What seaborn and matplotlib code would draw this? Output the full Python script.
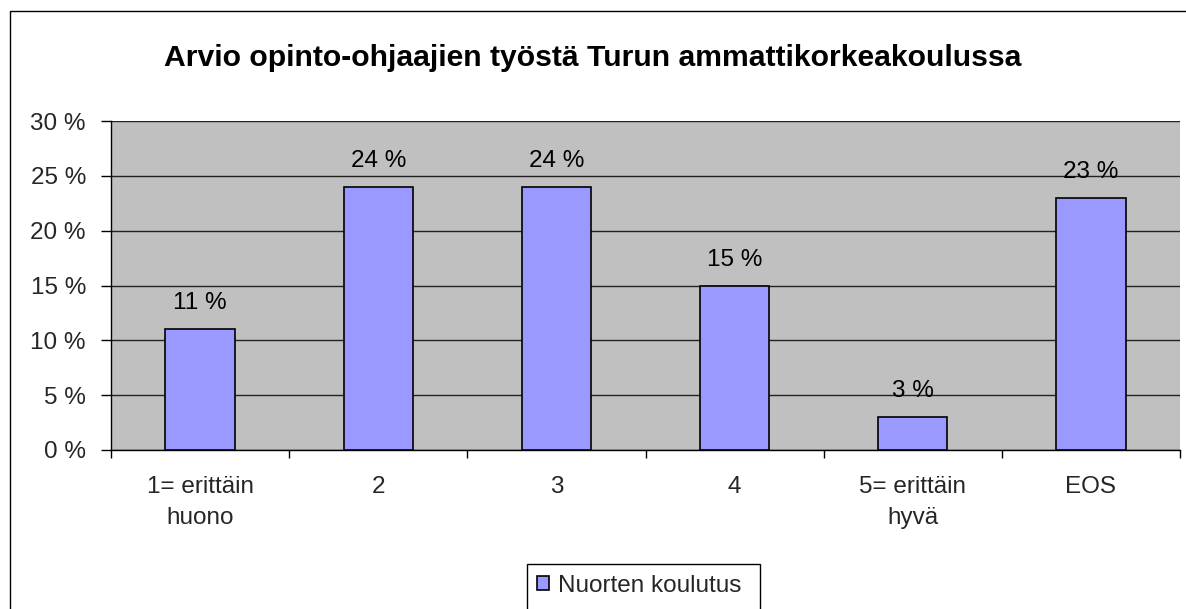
import matplotlib
matplotlib.use("Agg")
import matplotlib.pyplot as plt
import seaborn as sns
import pandas as pd
from matplotlib.patches import Rectangle
from matplotlib.ticker import FuncFormatter, FixedLocator

categories = ["1= erittäin\nhuono", "2", "3", "4", "5= erittäin\nhyvä", "EOS"]
values = [11, 24, 24, 15, 3, 23]
series_name = "Nuorten koulutus"
title = "Arvio opinto-ohjaajien työstä Turun ammattikorkeakoulussa"
yticks = [0, 5, 10, 15, 20, 25, 30]

sns.set_theme(style="white")
plt.rcParams["font.family"] = ["Liberation Sans", "DejaVu Sans"]

FS = 17.5
W, H = 1186, 609
fig = plt.figure(figsize=(W / 100, H / 100), dpi=100)
ax = fig.add_axes([111 / W, 1 - 450 / H, (1180 - 111) / W, (450 - 121) / H])

df = pd.DataFrame({"cat": categories, "val": values})
sns.barplot(data=df, x="cat", y="val", color="#9999FF", edgecolor="black",
            linewidth=1.2, width=0.39, saturation=1, ax=ax, label=series_name,
            zorder=3)
handles, labels = ax.get_legend_handles_labels()
if ax.get_legend() is not None:
    ax.get_legend().remove()

ax.set_facecolor("#C0C0C0")
ax.set_ylim(0, 30)
ax.set_xlim(-0.5, len(categories) - 0.5)
ax.set_yticks(yticks)
ax.yaxis.set_major_formatter(FuncFormatter(lambda v, p: f"{int(v)} %"))
ax.grid(axis="y", color="#222222", linewidth=1, zorder=0)
ax.set_axisbelow(True)
ax.set_xlabel("")
ax.set_ylabel("")

for s in ["top", "right"]:
    ax.spines[s].set_visible(False)
for s in ["left", "bottom"]:
    ax.spines[s].set_color("black")
    ax.spines[s].set_linewidth(1)

ax.tick_params(axis="y", which="major", length=7, width=1, color="black",
               labelsize=FS, pad=11, left=True)
ax.tick_params(axis="x", which="major", length=0, labelsize=FS, pad=19)
ax.xaxis.set_minor_locator(FixedLocator([i + 0.5 for i in range(-1, len(categories))]))
ax.tick_params(axis="x", which="minor", length=6, width=1, color="black", bottom=True)
for lbl in ax.get_xticklabels():
    lbl.set_linespacing(1.5)

for i, v in enumerate(values):
    ax.annotate(f"{v} %", (i, v), xytext=(0, 14.4), textcoords="offset points",
                ha="center", va="baseline", fontsize=FS, color="black")

fig.text(0.5, 1 - 58 / H, title, ha="center", va="center", fontsize=21.7,
         fontweight="bold", color="black")

# outer chart border (cropped at right and bottom)
fig.patches.append(Rectangle((10 / W, -0.05), 1.1, 1 - 11 / H + 0.05,
                             transform=fig.transFigure, fill=False,
                             edgecolor="black", linewidth=1, clip_on=False))

# legend
leg = fig.legend(handles, labels, loc="center left",
                 bbox_to_anchor=(537 / W, 1 - 586 / H), frameon=False,
                 fontsize=FS, handlelength=0.5, handleheight=0.5,
                 handletextpad=0.35, borderpad=0, borderaxespad=0)
fig.patches.append(Rectangle((527 / W, -0.05), (760 - 527) / W, 1 - 564 / H + 0.05,
                             transform=fig.transFigure, fill=False,
                             edgecolor="black", linewidth=1, clip_on=False))

fig.savefig("out.png", dpi=100, facecolor="white")
